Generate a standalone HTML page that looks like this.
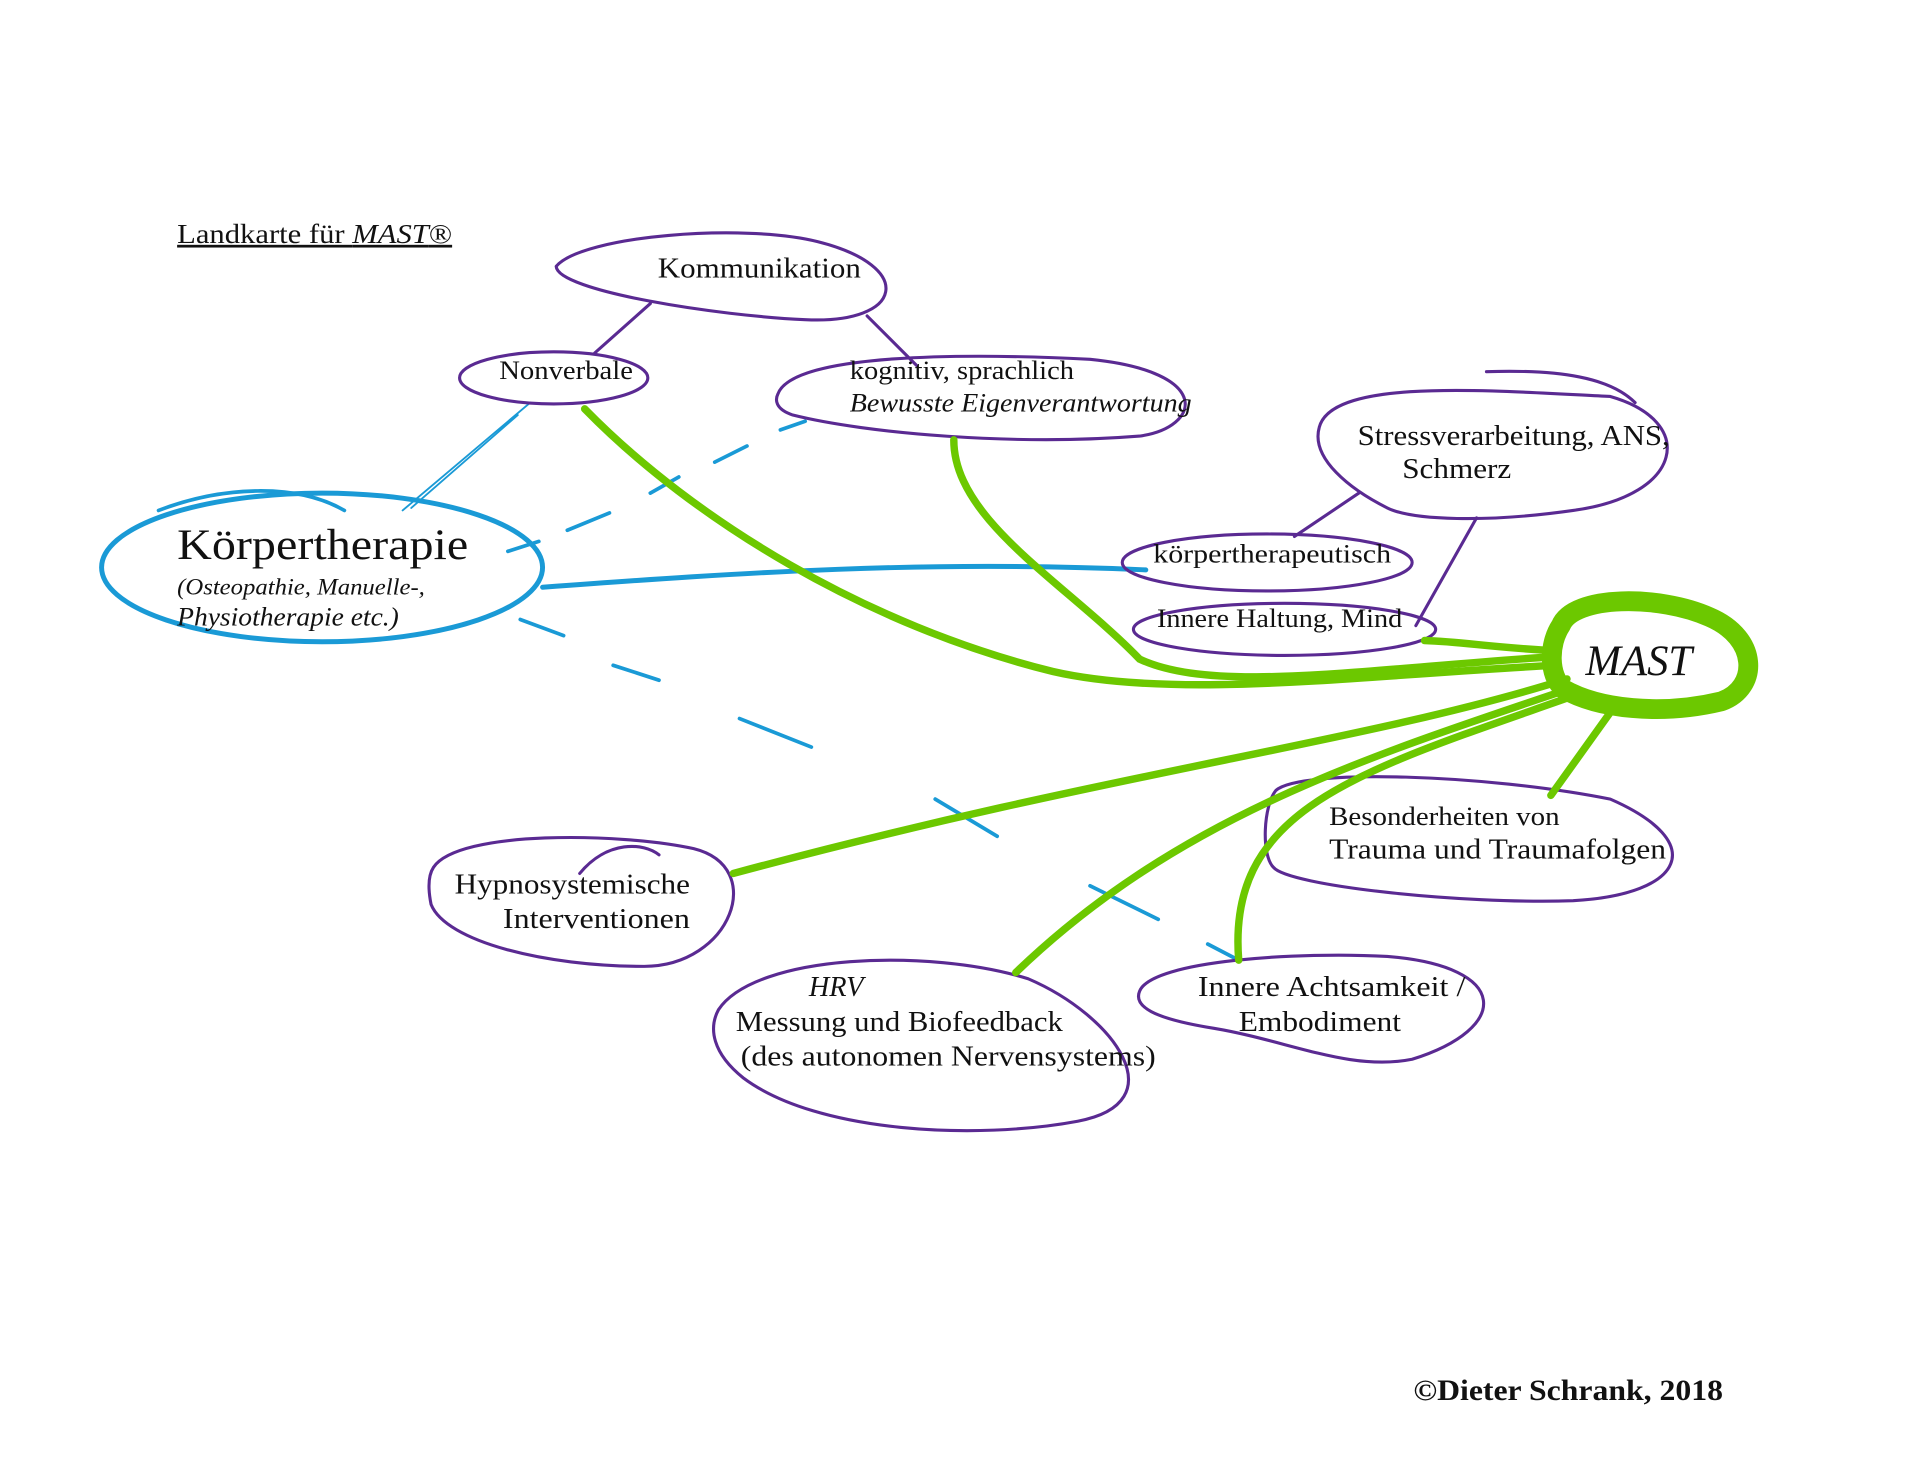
<!DOCTYPE html>
<html><head><meta charset="utf-8"><style>
html,body{margin:0;padding:0;background:#fff;width:1920px;height:1483px;overflow:hidden}
svg{display:block}
text{font-family:"Liberation Serif",serif;fill:#111}
</style></head><body>
<svg width="1920" height="1483" viewBox="0 0 1550 1197" preserveAspectRatio="none" xmlns="http://www.w3.org/2000/svg">
<g fill="none" stroke-linecap="round" stroke-linejoin="round">
<g stroke="#1a9ad6">
<path d="M438,474 C600,462 750,452 925,460" stroke-width="4"/>
<path d="M325,412 L428,325 M332,410 L418,335" stroke-width="1.5"/>
<g stroke-width="3">
<path d="M410,445 L435,437 M458,428 L492,414 M525,398 L548,385 M577,373 L603,360 M630,347 L650,340"/>
<path d="M420,500 L455,513 M495,537 L532,549 M597,580 L655,603 M755,645 L805,675 M880,715 L935,742 M975,762 L1000,775"/>
</g>
<path d="M128,412 C180,392 240,390 278,412" stroke-width="3"/>
<ellipse cx="260" cy="458" rx="178" ry="60" stroke-width="4"/>
</g>
<g stroke="#5a2a92" stroke-width="2.5">
<path d="M449,215 C470,190 600,180 660,195 C740,215 730,262 650,258 C580,255 450,235 449,215Z"/>
<ellipse cx="447" cy="305" rx="76" ry="21"/>
<path d="M628,318 C640,285 780,285 880,290 C980,300 970,345 920,352 C820,360 700,350 640,335 C625,330 626,322 628,318Z"/>
<path d="M1065,345 C1075,305 1200,315 1300,320 C1370,340 1360,400 1270,412 C1200,422 1140,420 1120,410 C1090,395 1058,370 1065,345Z"/>
<path d="M1200,300 C1260,298 1300,305 1320,325" />
<ellipse cx="1023" cy="454" rx="117" ry="23"/>
<ellipse cx="1037" cy="508" rx="122" ry="21"/>
<path d="M1030,638 C1050,620 1200,625 1300,645 C1380,680 1360,722 1270,727 C1180,730 1040,715 1028,700 C1018,690 1020,650 1030,638Z"/>
<path d="M350,700 C370,670 500,672 560,685 C620,700 590,780 520,780 C440,780 360,760 348,730 C345,715 346,706 350,700Z"/>
<path d="M468,705 C490,678 520,680 532,690"/>
<path d="M580,815 C610,770 750,765 830,790 C900,820 950,890 870,905 C790,920 660,915 600,870 C575,850 572,830 580,815Z"/>
<path d="M920,800 C930,775 1050,768 1120,772 C1220,780 1220,830 1140,855 C1090,865 1040,840 980,830 C930,822 915,812 920,800Z"/>
<path d="M480,285 L525,245 M740,295 L700,255 M1045,433 L1097,398 M1143,505 L1192,418"/>
</g>
<g stroke="#6cc800" stroke-width="6">
<path d="M1255,537 C1100,545 950,565 850,542 C700,505 560,420 472,330"/>
<path d="M1255,530 C1100,540 980,560 920,532 C860,470 770,420 770,355"/>
<path d="M1250,525 C1200,522 1180,518 1150,517"/>
<path d="M1265,548 C1100,600 900,622 592,705"/>
<path d="M1270,555 C1100,612 950,660 820,785"/>
<path d="M1275,560 C1100,622 990,650 1000,775"/>
<path d="M1305,568 L1252,642"/>
<path d="M1260,505 C1270,480 1340,480 1380,498 C1420,515 1420,555 1390,566 C1340,578 1290,572 1262,556 C1250,545 1250,520 1260,505Z" stroke-width="16"/>
</g>
</g>
<g transform="translate(0,-4)">
<text x="143" y="200" font-size="22" text-decoration="underline" textLength="222" lengthAdjust="spacingAndGlyphs">Landkarte für <tspan font-style="italic">MAST</tspan>®</text>
<text x="531" y="228" font-size="23" textLength="164" lengthAdjust="spacingAndGlyphs">Kommunikation</text>
<text x="403" y="310" font-size="21" textLength="108" lengthAdjust="spacingAndGlyphs">Nonverbale</text>
<text x="686" y="310" font-size="21" textLength="181" lengthAdjust="spacingAndGlyphs">kognitiv, sprachlich</text>
<text x="686" y="336" font-size="21" font-style="italic" textLength="276" lengthAdjust="spacingAndGlyphs">Bewusste Eigenverantwortung</text>
<text x="1096" y="363" font-size="23" textLength="252" lengthAdjust="spacingAndGlyphs">Stressverarbeitung, ANS,</text>
<text x="1132" y="390" font-size="23" textLength="88" lengthAdjust="spacingAndGlyphs">Schmerz</text>
<text x="143" y="455" font-size="35" textLength="235" lengthAdjust="spacingAndGlyphs">Körpertherapie</text>
<text x="143" y="484" font-size="19" font-style="italic" textLength="200" lengthAdjust="spacingAndGlyphs">(Osteopathie, Manuelle-,</text>
<text x="143" y="509" font-size="21" font-style="italic" textLength="179" lengthAdjust="spacingAndGlyphs">Physiotherapie etc.)</text>
<text x="931" y="458" font-size="21" textLength="192" lengthAdjust="spacingAndGlyphs">körpertherapeutisch</text>
<text x="934" y="510" font-size="21" textLength="198" lengthAdjust="spacingAndGlyphs">Innere Haltung, Mind</text>
<text x="1280" y="549" font-size="35" font-style="italic" textLength="86" lengthAdjust="spacingAndGlyphs">MAST</text>
<text x="1073" y="670" font-size="21" textLength="186" lengthAdjust="spacingAndGlyphs">Besonderheiten von</text>
<text x="1073" y="697" font-size="23" textLength="272" lengthAdjust="spacingAndGlyphs">Trauma und Traumafolgen</text>
<text x="367" y="725" font-size="23" textLength="190" lengthAdjust="spacingAndGlyphs">Hypnosystemische</text>
<text x="406" y="753" font-size="23" textLength="151" lengthAdjust="spacingAndGlyphs">Interventionen</text>
<text x="653" y="808" font-size="23" font-style="italic" textLength="44" lengthAdjust="spacingAndGlyphs">HRV</text>
<text x="594" y="836" font-size="23" textLength="264" lengthAdjust="spacingAndGlyphs">Messung und Biofeedback</text>
<text x="598" y="864" font-size="23" textLength="335" lengthAdjust="spacingAndGlyphs">(des autonomen Nervensystems)</text>
<text x="967" y="808" font-size="23" textLength="216" lengthAdjust="spacingAndGlyphs">Innere Achtsamkeit /</text>
<text x="1000" y="836" font-size="23" textLength="131" lengthAdjust="spacingAndGlyphs">Embodiment</text>
<text x="1141" y="1134" font-size="24" font-weight="bold" textLength="250" lengthAdjust="spacingAndGlyphs">©Dieter Schrank, 2018</text>
</g>
</svg>
</body></html>
